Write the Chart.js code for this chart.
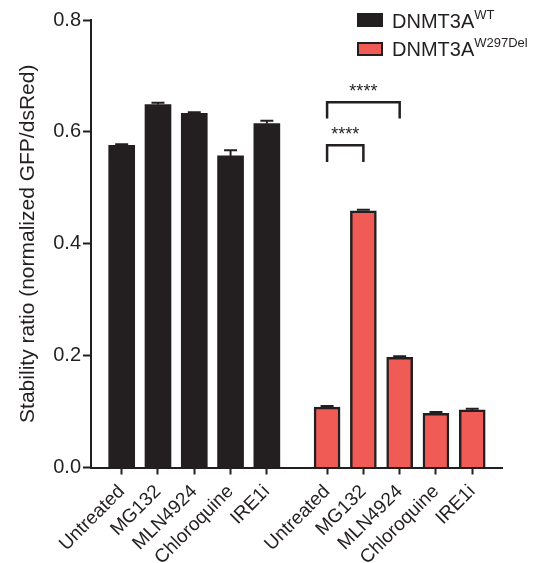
<!DOCTYPE html>
<html>
<head>
<meta charset="utf-8">
<script src="https://cdn.jsdelivr.net/npm/chart.js@4/dist/chart.umd.min.js"></script>
<style>
  html, body { margin: 0; padding: 0; background: #fff; }
  #wrap { position: relative; width: 553px; height: 563px; font-family: 'Liberation Sans', Arial, sans-serif; color: #231f20; }
  #chart { position: absolute; left: 0; top: 0; }
  #legend { position: absolute; left: 357px; top: 6px; }
  .row { display: flex; align-items: center; height: 28.5px; font-size: 20px; white-space: nowrap; }
  .swatch { width: 26px; height: 14px; box-sizing: border-box; margin-right: 9px; }
  .row sup { font-size: 13px; position: relative; top: -1px; }
</style>
</head>
<body>
<div id="wrap">
  <canvas id="chart" width="553" height="563"></canvas>
  <div id="legend"></div>
</div>
<script>
const treatments = ['Untreated', 'MG132', 'MLN4924', 'Chloroquine', 'IRE1i'];

const wtValues = [0.576, 0.649, 0.633, 0.557, 0.615];
const wtErrors = [0.002, 0.003, 0.002, 0.010, 0.005];

const delValues = [0.108, 0.459, 0.197, 0.097, 0.103];
const delErrors = [0.002, 0.002, 0.002, 0.002, 0.002];

const yTicks = [0, 0.2, 0.4, 0.6, 0.8];

// significance brackets within the W297Del group (indexes into treatments)
const brackets = [
    { from: 0, to: 2, y: 0.653, drop: 0.029, label: '****' },
    { from: 0, to: 1, y: 0.576, drop: 0.030, label: '****' }
];

const INK = '#231f20';
const RED = '#f15b55';
const FONT = "'Liberation Sans', Arial, sans-serif";
const GROUP_OFFSET = 5.66; // second group starts this many slots after the first

const wtX = treatments.map((t, i) => i);
const delX = treatments.map((t, i) => i + GROUP_OFFSET);
const xPositions = wtX.concat(delX);
const xLabels = treatments.concat(treatments);

// --- error bars (upper whisker only, the lower half sits inside the bar) ---
const errorBars = {
    id: 'errorBars',
    afterDatasetsDraw(chart) {
        const ctx = chart.ctx;
        const yScale = chart.scales.y;
        chart.data.datasets.forEach((ds, di) => {
            chart.getDatasetMeta(di).data.forEach((bar, i) => {
                const top = yScale.getPixelForValue(ds.data[i].y + ds.errors[i]);
                ctx.save();
                ctx.strokeStyle = INK;
                ctx.lineWidth = 2;
                ctx.beginPath();
                ctx.moveTo(bar.x, bar.y);
                ctx.lineTo(bar.x, top);
                ctx.moveTo(bar.x - 6.5, top);
                ctx.lineTo(bar.x + 6.5, top);
                ctx.stroke();
                ctx.restore();
            });
        });
    }
};

// --- significance brackets ---
const sigBrackets = {
    id: 'sigBrackets',
    afterDatasetsDraw(chart) {
        const ctx = chart.ctx;
        const xs = chart.scales.x, ys = chart.scales.y;
        brackets.forEach(b => {
            const x1 = xs.getPixelForValue(delX[b.from]);
            const x2 = xs.getPixelForValue(delX[b.to]);
            const y = ys.getPixelForValue(b.y);
            const yLeg = ys.getPixelForValue(b.y - b.drop);
            ctx.save();
            ctx.strokeStyle = INK;
            ctx.lineWidth = 2.5;
            ctx.beginPath();
            ctx.moveTo(x1, yLeg);
            ctx.lineTo(x1, y);
            ctx.lineTo(x2, y);
            ctx.lineTo(x2, yLeg);
            ctx.stroke();
            ctx.fillStyle = INK;
            ctx.font = '18px ' + FONT;
            ctx.textAlign = 'center';
            ctx.textBaseline = 'alphabetic';
            ctx.fillText(b.label, (x1 + x2) / 2, y - 5);
            ctx.restore();
        });
    }
};

// --- html legend so the superscripts stay real text ---
const htmlLegend = {
    id: 'htmlLegend',
    afterUpdate(chart) {
        const box = document.getElementById('legend');
        box.innerHTML = '';
        chart.data.datasets.forEach(ds => {
            const row = document.createElement('div');
            row.className = 'row';
            row.innerHTML = `<span class="swatch" style="background:${ds.backgroundColor};border:${ds.borderWidth ? '2px solid ' + ds.borderColor : 'none'}"></span>` +
                `<span>${ds.label}<sup>${ds.sup}</sup></span>`;
            box.appendChild(row);
        });
    }
};

new Chart(document.getElementById('chart'), {
    type: 'bar',
    data: {
        datasets: [
            {
                label: 'DNMT3A', sup: 'WT',
                data: wtValues.map((v, i) => ({ x: wtX[i], y: v })),
                errors: wtErrors,
                backgroundColor: INK,
                borderWidth: 0
            },
            {
                label: 'DNMT3A', sup: 'W297Del',
                data: delValues.map((v, i) => ({ x: delX[i], y: v })),
                errors: delErrors,
                backgroundColor: RED,
                borderColor: INK,
                borderWidth: 2.5
            }
        ]
    },
    options: {
        responsive: false,
        animation: false,
        layout: { padding: { top: 20, right: 51, bottom: 0, left: 0 } },
        datasets: { bar: { grouped: false, barThickness: 26 } },
        plugins: { legend: { display: false }, tooltip: { enabled: false } },
        scales: {
            x: {
                type: 'linear',
                offset: false,
                min: -0.846,
                max: 10.48,
                afterBuildTicks: s => { s.ticks = xPositions.map(v => ({ value: v })); },
                afterFit: s => { s.height = 95.5; },
                ticks: {
                    autoSkip: false,
                    maxRotation: 45,
                    minRotation: 45,
                    padding: 6,
                    color: INK,
                    font: { family: FONT, size: 19 },
                    callback: (v, i) => xLabels[i]
                },
                grid: { offset: false, drawOnChartArea: false, drawTicks: true, tickLength: 7, tickWidth: 2, tickColor: INK },
                border: { display: true, color: INK, width: 2 }
            },
            y: {
                min: 0,
                max: 0.8,
                afterBuildTicks: s => { s.ticks = yTicks.map(v => ({ value: v })); },
                afterFit: s => { s.width = 91; },
                ticks: {
                    padding: 2,
                    color: INK,
                    font: { family: FONT, size: 20 },
                    callback: v => v.toFixed(1)
                },
                title: {
                    display: true,
                    text: 'Stability ratio (normalized GFP/dsRed)',
                    color: INK,
                    font: { family: FONT, size: 21 },
                    padding: { top: 16, bottom: 0 }
                },
                grid: { drawOnChartArea: false, drawTicks: true, tickLength: 8, tickWidth: 2, tickColor: INK },
                border: { display: true, color: INK, width: 2 }
            }
        }
    },
    plugins: [errorBars, sigBrackets, htmlLegend]
});
</script>
</body>
</html>
